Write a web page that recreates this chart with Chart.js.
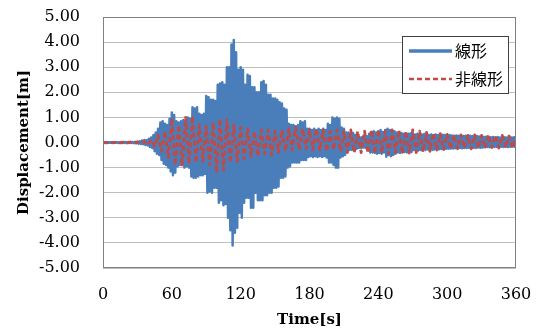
<!DOCTYPE html>
<html>
<head>
<meta charset="utf-8">
<script src="https://cdn.jsdelivr.net/npm/chart.js@4.4.1/dist/chart.umd.min.js"></script>
<style>
html,body{margin:0;padding:0;background:#fff;}
#wrap{width:538px;height:331px;position:relative;}
</style>
</head>
<body>
<div id="wrap"><canvas id="c" width="538" height="331"></canvas></div>
<script>
// ---- data ----
const seriesNames = ['線形', '非線形'];
const xTicks = [0, 60, 120, 180, 240, 300, 360];
const yTicks = [-5, -4, -3, -2, -1, 0, 1, 2, 3, 4, 5];
const linearStep = 1;     // s between samples of 線形
const nonlinearStep = 3;  // s between samples of 非線形

const linearValues = [
 0.00,-0.01,0.01,-0.01,0.01,-0.01,0.01,-0.01,0.01,-0.01,
 0.01,-0.01,0.02,-0.02,0.01,-0.01,0.02,-0.02,0.02,-0.02,
 0.02,-0.02,0.02,-0.02,0.03,-0.02,0.02,-0.03,0.03,-0.03,
 0.04,-0.05,0.05,-0.06,0.08,-0.07,0.10,-0.10,0.09,-0.12,
 0.15,-0.18,0.20,-0.22,0.30,-0.35,0.40,-0.45,0.55,-0.50,
 0.80,-0.70,0.85,-0.85,0.75,-0.90,0.70,-1.00,0.95,-1.15,
 1.20,-1.30,1.10,-1.20,0.85,-0.95,0.80,-0.90,0.85,-0.85,
 0.90,-1.00,0.85,-0.95,1.00,-1.00,0.95,-1.35,1.40,-1.40,
 1.35,-1.40,1.40,-1.35,1.15,-1.30,1.10,-1.30,1.15,-1.25,
 1.85,-2.00,1.80,-1.95,1.70,-2.00,1.70,-1.80,1.65,-1.80,
 2.30,-2.40,2.35,-2.30,2.40,-2.50,2.30,-2.45,3.00,-3.00,
 3.00,-3.50,3.90,-4.10,4.08,-3.60,3.60,-3.40,2.90,-2.80,
 3.00,-3.00,2.90,-2.40,2.30,-2.20,2.70,-2.20,2.65,-2.60,
 2.20,-2.60,2.20,-2.00,2.00,-2.30,2.00,-2.30,2.40,-2.30,
 2.45,-2.10,2.30,-2.10,1.90,-2.00,1.90,-2.00,1.75,-1.80,
 1.75,-1.80,1.70,-1.75,1.60,-1.40,1.55,-1.40,1.35,-1.35,
 1.30,-1.00,0.75,-0.95,0.70,-0.80,0.70,-0.80,0.65,-0.80,
 0.70,-0.80,0.85,-0.70,0.80,-0.70,0.85,-0.70,0.55,-0.58,
 0.55,-0.55,0.50,-0.58,0.55,-0.55,0.50,-0.58,0.55,-0.55,
 0.50,-0.58,0.55,-0.55,0.50,-0.60,0.75,-0.80,0.70,-0.80,
 1.00,-0.90,0.95,-1.00,1.00,-1.00,0.95,-0.60,0.60,-0.55,
 0.55,-0.50,0.40,-0.30,0.40,-0.30,0.35,-0.30,0.38,-0.28,
 0.30,-0.25,0.25,-0.22,0.20,-0.22,0.22,-0.20,0.25,-0.22,
 0.25,-0.30,0.35,-0.40,0.42,-0.40,0.45,-0.42,0.40,-0.45,
 0.45,-0.42,0.50,-0.45,0.42,-0.40,0.50,-0.57,0.55,-0.50,
 0.50,-0.55,0.48,-0.50,0.45,-0.45,0.40,-0.40,0.38,-0.42,
 0.38,-0.40,0.35,-0.38,0.37,-0.40,0.35,-0.35,0.36,-0.38,
 0.35,-0.30,0.32,-0.30,0.35,-0.32,0.33,-0.30,0.32,-0.30,
 0.34,-0.30,0.33,-0.28,0.30,-0.30,0.32,-0.30,0.30,-0.28,
 0.32,-0.28,0.30,-0.27,0.30,-0.26,0.31,-0.27,0.30,-0.25,
 0.28,-0.25,0.30,-0.24,0.28,-0.24,0.27,-0.23,0.28,-0.22,
 0.27,-0.22,0.28,-0.23,0.26,-0.22,0.27,-0.22,0.26,-0.21,
 0.27,-0.22,0.26,-0.21,0.25,-0.22,0.26,-0.20,0.24,-0.21,
 0.23,-0.20,0.22,-0.19,0.23,-0.18,0.22,-0.19,0.21,-0.18,
 0.22,-0.18,0.21,-0.17,0.22,-0.18,0.20,-0.17,0.21,-0.18,
 0.21,-0.17,0.20,-0.18,0.21,-0.17,0.20,-0.16,0.21,-0.17,
 0.18
];

const nonlinearValues = [
 0.00,-0.01,0.01,-0.01,0.01,-0.01,0.01,-0.01,0.01,-0.02,
 0.02,-0.03,0.05,-0.08,0.12,-0.15,0.30,-0.35,0.45,-0.60,
 0.95,-0.90,0.70,-0.95,1.00,-0.85,1.05,-0.80,0.70,-0.75,
 0.65,-0.90,0.80,-1.20,0.95,-1.10,0.90,-0.80,0.70,-0.75,
 0.60,-0.65,0.55,-0.55,0.45,-0.55,0.50,-0.45,0.50,-0.50,
 0.45,-0.40,0.50,-0.35,0.55,-0.30,0.60,-0.30,0.55,-0.25,
 0.50,-0.30,0.55,-0.30,0.50,-0.35,0.45,-0.30,0.50,-0.35,
 0.45,-0.40,0.50,-0.40,0.45,-0.40,0.45,-0.42,0.50,-0.45,
 0.50,-0.42,0.45,-0.45,0.50,-0.40,0.48,-0.45,0.45,-0.42,
 0.50,-0.40,0.45,-0.38,0.40,-0.35,0.38,-0.30,0.35,-0.28,
 0.32,-0.25,0.30,-0.25,0.30,-0.22,0.28,-0.25,0.30,-0.22,
 0.28,-0.22,0.30,-0.20,0.27,-0.22,0.28,-0.20,0.26,-0.22,
 0.25
];

// ---- styles ----
const BLUE = '#4A7EBB';
const RED = '#BE4B48';
const serif = '"DejaVu Serif", "Liberation Serif", serif';

const linearPts = linearValues.map((v, i) => ({x: i * linearStep, y: v}));
const nonlinearPts = nonlinearValues.map((v, i) => ({x: i * nonlinearStep, y: v}));

const frameAndLegend = {
  id: 'frameAndLegend',
  afterDraw(chart) {
    const {ctx, chartArea: a} = chart;
    ctx.save();
    ctx.strokeStyle = '#808080';
    ctx.lineWidth = 1;
    ctx.strokeRect(Math.round(a.left) + 0.5, Math.round(a.top) + 0.5,
                   Math.round(a.right - a.left) - 1, Math.round(a.bottom - a.top) - 1);
    const w = 106, h = 57;
    const x0 = Math.round(a.right) - 8 - w;
    const y0 = Math.round(a.top) + 19;
    ctx.fillStyle = '#fff';
    ctx.fillRect(x0, y0, w, h);
    ctx.strokeStyle = '#404040';
    ctx.strokeRect(x0 + 0.5, y0 + 0.5, w, h);
    const items = [
      {name: seriesNames[0], color: BLUE, dash: [], width: 3.5, y: y0 + 15},
      {name: seriesNames[1], color: RED, dash: [5, 3], width: 2.5, y: y0 + 43}
    ];
    items.forEach(it => {
      ctx.beginPath();
      ctx.setLineDash(it.dash);
      ctx.strokeStyle = it.color;
      ctx.lineWidth = it.width;
      ctx.moveTo(x0 + 7, it.y);
      ctx.lineTo(x0 + 50, it.y);
      ctx.stroke();
      ctx.setLineDash([]);
      ctx.fillStyle = '#000';
      ctx.font = '16px "Noto Sans CJK JP", sans-serif';
      ctx.textBaseline = 'middle';
      ctx.textAlign = 'left';
      ctx.fillText(it.name, x0 + 53, it.y);
    });
    ctx.restore();
  }
};

new Chart(document.getElementById('c'), {
  type: 'line',
  data: {
    datasets: [
      {label: seriesNames[0], data: linearPts, borderColor: BLUE, borderWidth: 2.5,
       borderJoinStyle: 'round', pointRadius: 0, tension: 0, fill: false, order: 2},
      {label: seriesNames[1], data: nonlinearPts, borderColor: RED, borderWidth: 2.8,
       borderJoinStyle: 'round', borderDash: [5, 3], pointRadius: 0, tension: 0, fill: false, order: 1}
    ]
  },
  options: {
    responsive: false,
    animation: false,
    events: [],
    layout: {padding: {left: 0, right: 22, top: 17, bottom: 0}},
    plugins: {legend: {display: false}, tooltip: {enabled: false}},
    scales: {
      x: {
        type: 'linear', min: xTicks[0], max: xTicks[xTicks.length - 1],
        afterBuildTicks: s => { s.ticks = xTicks.map(v => ({value: v})); },
        grid: {display: false, drawTicks: false},
        border: {display: false},
        ticks: {color: '#000', font: {family: serif, size: 16}, padding: 17, maxRotation: 0},
        title: {display: true, text: 'Time[s]', color: '#000',
                font: {family: serif, size: 15, weight: 'bold'}, padding: {top: 0, bottom: 2}},
        afterFit: s => { s.height = 63; s.paddingLeft = 8; s.paddingRight = 16; }
      },
      y: {
        type: 'linear', min: yTicks[0], max: yTicks[yTicks.length - 1],
        afterBuildTicks: s => { s.ticks = yTicks.map(v => ({value: v})); },
        grid: {color: '#BFBFBF', lineWidth: 1, drawTicks: false},
        border: {display: false},
        ticks: {color: '#000', font: {family: serif, size: 16}, padding: 23,
                callback: v => Number(v).toFixed(2)},
        title: {display: true, text: 'Displacement[m]', color: '#000',
                font: {family: serif, size: 15, weight: 'bold'}, padding: {top: 15, bottom: 0}},
        afterFit: s => { s.width = 103; s.paddingTop = 10; s.paddingBottom = 10; }
      }
    }
  },
  plugins: [frameAndLegend]
});
</script>
</body>
</html>
